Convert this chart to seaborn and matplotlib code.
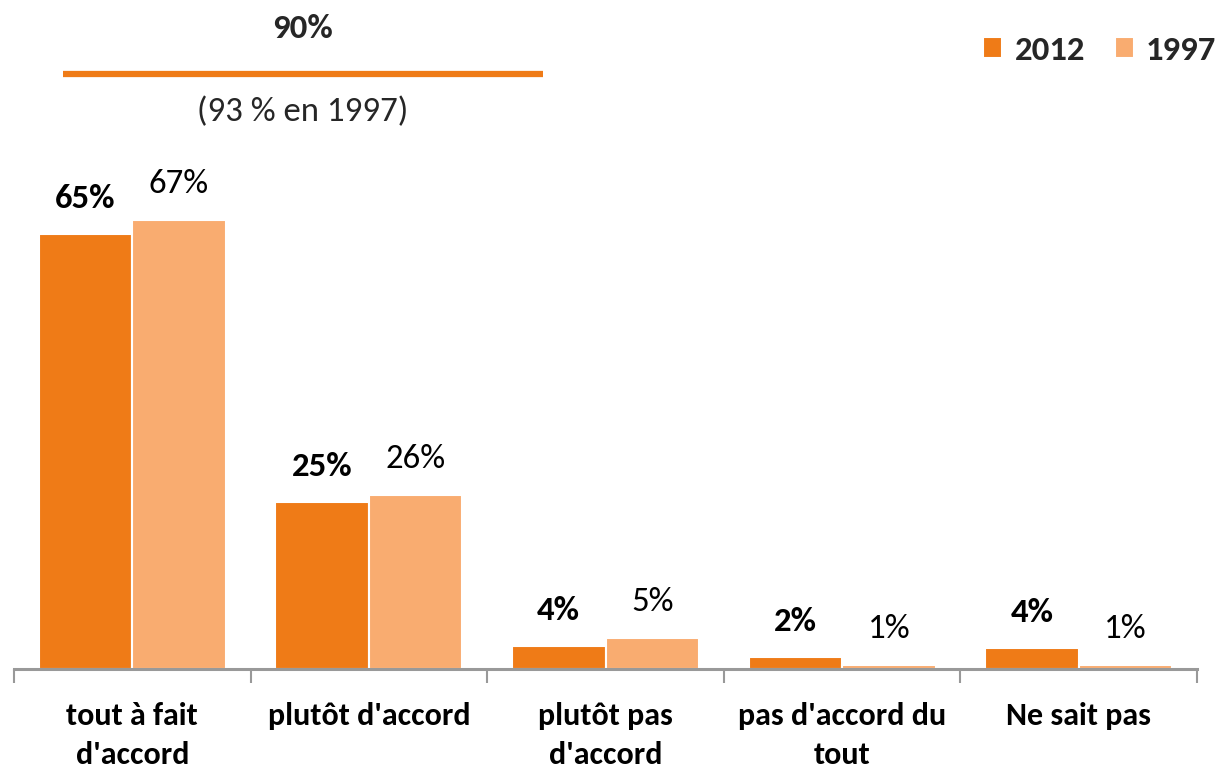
import matplotlib
matplotlib.use("Agg")
import matplotlib.pyplot as plt
from matplotlib import font_manager
import seaborn as sns
import pandas as pd
import numpy as np

categories = ["tout à fait\nd'accord", "plutôt d'accord", "plutôt pas\nd'accord",
              "pas d'accord du\ntout", "Ne sait pas"]
years = ["2012", "1997"]
values_2012 = [65, 25, 3.4, 1.8, 3.2]
values_1997 = [67, 26, 4.6, 0.6, 0.6]
labels_2012 = ["65%", "25%", "4%", "2%", "4%"]
labels_1997 = ["67%", "26%", "5%", "1%", "1%"]
colors = ["#EF7B17", "#F9AC70"]

sns.set_theme(style="white")
avail = {f.name for f in font_manager.fontManager.ttflist}
fam = [f for f in ["Carlito", "Liberation Sans Narrow", "Lato", "DejaVu Sans"] if f in avail]
plt.rcParams['font.family'] = fam + ["DejaVu Sans"]

df = pd.DataFrame({
    "cat": categories * 2,
    "year": [years[0]] * 5 + [years[1]] * 5,
    "val": values_2012 + values_1997,
})

fig = plt.figure(figsize=(12.18, 7.73), dpi=100)
ax = fig.add_axes([14 / 1218, 104 / 773, (1197 - 14) / 1218, 536 / 773])
sns.barplot(data=df, x="cat", y="val", hue="year", palette=colors, width=0.79,
            saturation=1, edgecolor="white", linewidth=1.5, ax=ax, legend=True)
ax.set_ylim(0, 80)
ax.set_xlim(-0.5, 4.5)
ax.set_xlabel("")
ax.set_ylabel("")
ax.set_yticks([])
for s in ["left", "right", "top"]:
    ax.spines[s].set_visible(False)
ax.spines["bottom"].set_color("#999999")
ax.spines["bottom"].set_linewidth(2.2)
ax.tick_params(axis="x", which="major", length=0, pad=24, labelsize=23, labelcolor="black")
for t in ax.get_xticklabels():
    t.set_fontweight("bold")
    t.set_linespacing(1.45)
ax.set_xticks(np.arange(-0.5, 5, 1), minor=True)
ax.tick_params(axis="x", which="minor", length=10, width=1.5, color="#999999", bottom=True)

ax.bar_label(ax.containers[0], labels=labels_2012, padding=15, fontsize=25, fontweight="bold", color="black")
ax.bar_label(ax.containers[1], labels=labels_1997, padding=15, fontsize=25, color="black")

leg = ax.legend(loc="center right", bbox_to_anchor=(1216 / 1218, 1 - 50 / 773), bbox_transform=fig.transFigure,
                ncol=2, frameon=False, handlelength=0.55, handleheight=0.55, handletextpad=0.35,
                columnspacing=0.85, borderpad=0, borderaxespad=0,
                prop={"size": 25, "weight": "bold"})

fig.text(303 / 1218, 1 - 28 / 773, "90%", ha="center", va="center", fontsize=25, fontweight="bold")
fig.add_artist(plt.Line2D([63 / 1218, 543 / 1218], [1 - 74 / 773, 1 - 74 / 773],
                          color=colors[0], linewidth=4.5, solid_capstyle="butt", transform=fig.transFigure))
fig.text(303 / 1218, 1 - 112 / 773, "(93 % en 1997)", ha="center", va="center", fontsize=25)

fig.savefig("out.png", dpi=100)
